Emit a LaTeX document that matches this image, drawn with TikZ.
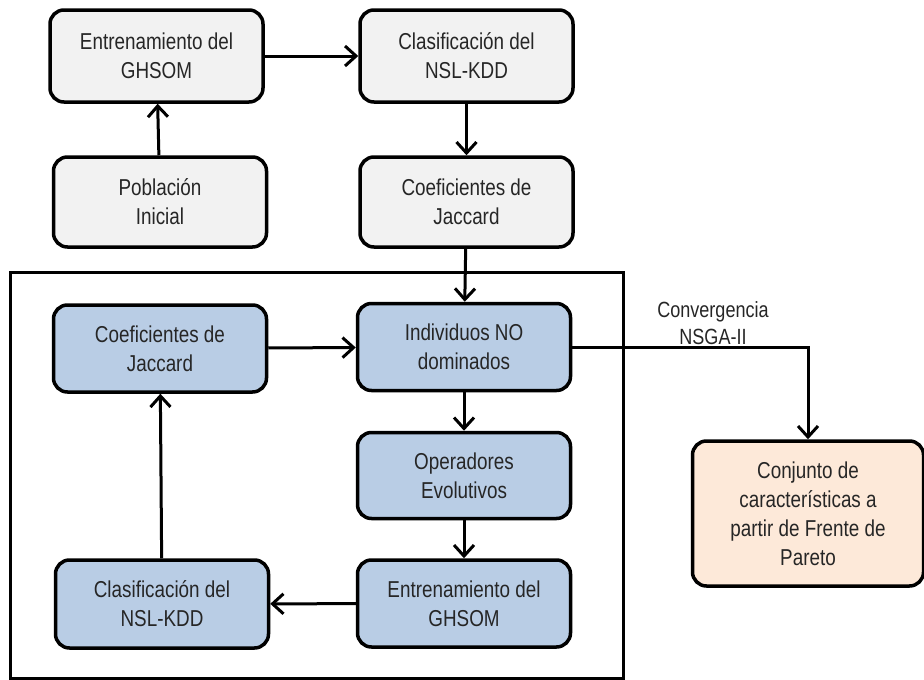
\documentclass[tikz,border=0pt]{standalone}
\usepackage{fontspec}
\setmainfont{Liberation Sans}[FakeStretch=0.82]
\usetikzlibrary{arrows.meta}
\definecolor{grayfill}{HTML}{F2F2F2}
\definecolor{bluefill}{HTML}{B9CDE5}
\definecolor{peachfill}{HTML}{FDE9D9}
\definecolor{txt}{HTML}{262626}
\begin{document}
\begin{tikzpicture}[x=1pt,y=-1pt,
 box/.style={draw=black, line width=3.5pt, rounded corners=14pt, align=center, text=txt,
   font=\fontsize{23}{29}\selectfont, minimum width=213pt, minimum height=90pt, inner sep=0pt},
 gbox/.style={box, fill=grayfill},
 bbox/.style={box, fill=bluefill},
 pbox/.style={box, fill=peachfill, minimum width=231pt, minimum height=145pt},
 conn/.style={line width=3pt, -{Straight Barb[length=11pt,width=20pt]}},
 lbl/.style={text=txt, align=center, font=\fontsize{22}{27}\selectfont, inner sep=0pt}
]
\useasboundingbox (0,0) rectangle (924,680);
% outer frame
\draw[line width=3pt] (10,272) rectangle (623,678);
% top nodes
\node[gbox, minimum height=92pt] (e1) at (156.5,56) {Entrenamiento del\\GHSOM};
\node[gbox, minimum height=92pt] (c1) at (466.5,56) {Clasificación del\\NSL-KDD};
\node[gbox] (p) at (160,202) {Población\\Inicial};
\node[gbox] (j1) at (466.5,202) {Coeficientes de\\Jaccard};
% loop nodes
\node[bbox, minimum height=87pt] (j2) at (160,348.5) {Coeficientes de\\Jaccard};
\node[bbox, minimum height=87pt] (ind) at (464,347) {Individuos NO\\dominados};
\node[bbox, minimum height=86pt] (op) at (464,475.5) {Operadores\\Evolutivos};
\node[bbox, minimum height=87pt] (e2) at (464,603.5) {Entrenamiento del\\GHSOM};
\node[bbox, minimum height=88pt] (c2) at (162,604) {Clasificación del\\NSL-KDD};
% result
\node[pbox] (conj) at (808,513.5) {Conjunto de\\características a\\partir de Frente de\\Pareto};
\node[lbl] (conv) at (713,323) {Convergencia\\NSGA-II};
% connectors
\draw[conn] (e1) -- (c1);
\draw[conn] (p) -- (e1);
\draw[conn] (c1) -- (j1);
\draw[conn] (j1) -- (ind);
\draw[conn] (j2) -- (ind);
\draw[conn] (ind) -- (op);
\draw[conn] (op) -- (e2);
\draw[conn] (e2) -- (c2);
\draw[conn] (c2) -- (j2);
\draw[conn] (ind.east) -| (conj.north);
\end{tikzpicture}
\end{document}
